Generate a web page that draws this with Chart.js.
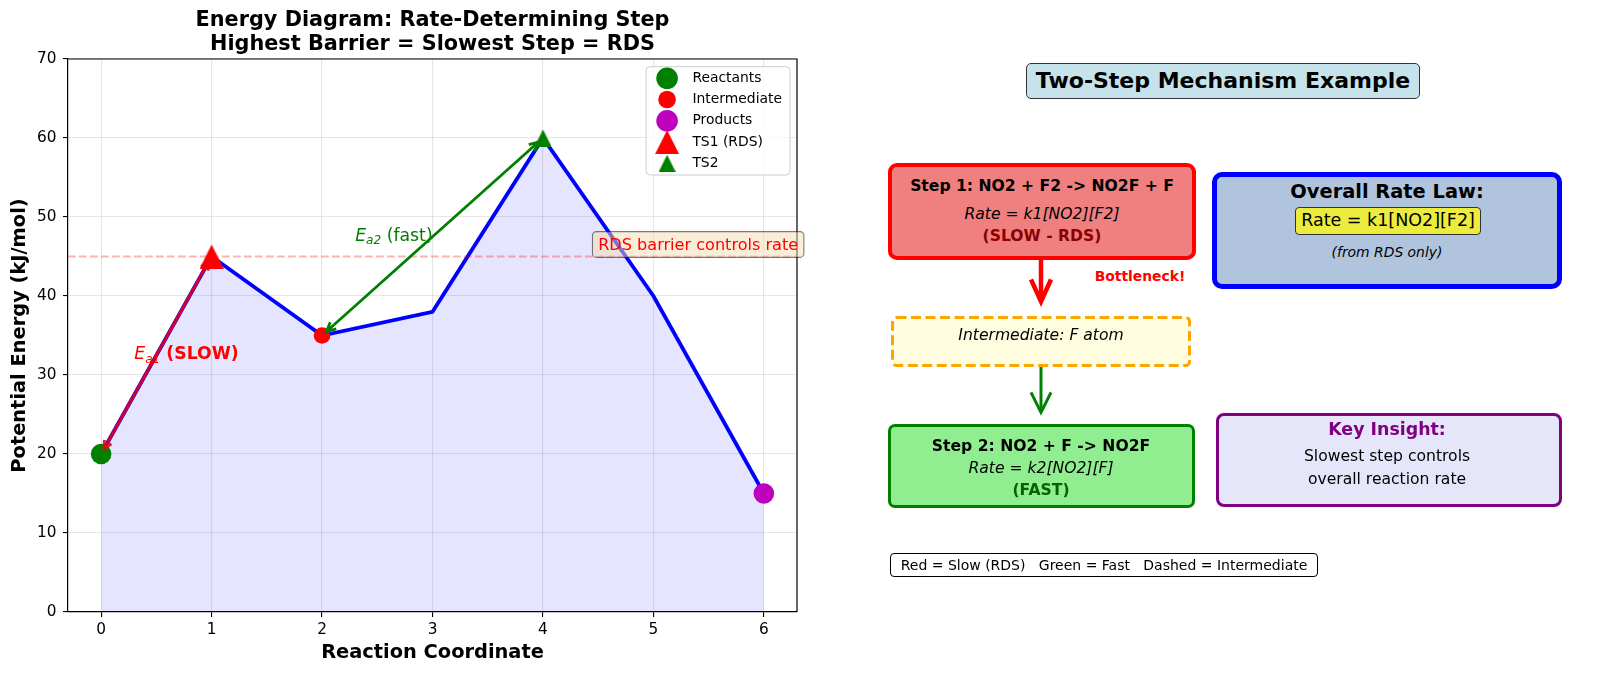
<!DOCTYPE html>
<html>
<head>
<meta charset="utf-8">
<script src="https://cdn.jsdelivr.net/npm/chart.js@4.4.1/dist/chart.umd.min.js"></script>
<style>
html,body{margin:0;padding:0;background:#fff;width:1600px;height:676px;overflow:hidden;font-family:"DejaVu Sans",sans-serif;}
#wrap{position:absolute;left:0;top:0;width:812px;height:676px;}
.box{position:absolute;box-sizing:border-box;}
.t{position:absolute;transform:translate(-50%,-50%);white-space:nowrap;line-height:1;color:#000;}
.b{font-weight:bold;}
.i{font-style:italic;}
svg{position:absolute;left:0;top:0;}
</style>
</head>
<body>
<div id="wrap"><canvas id="c" width="812" height="676"></canvas></div>

<!-- right panel -->
<div class="box" style="left:1026px;top:63px;width:394px;height:36px;background:#c6e3eb;border:1.3px solid #333;border-radius:5px;"></div>
<div class="t b" style="left:1223px;top:81px;font-size:22px;">Two-Step Mechanism Example</div>

<div class="box" style="left:888px;top:163px;width:308px;height:97px;background:#f08080;border:4px solid #ff0000;border-radius:9px;"></div>
<div class="t b" style="left:1042px;top:187px;font-size:15.6px;">Step 1: NO2 + F2 -&gt; NO2F + F</div>
<div class="t i" style="left:1042px;top:215px;font-size:15.6px;">Rate = k1[NO2][F2]</div>
<div class="t b" style="left:1042px;top:237px;font-size:15.6px;color:#8b0000;">(SLOW - RDS)</div>

<div class="box" style="left:1212px;top:172px;width:350px;height:117px;background:#b0c4de;border:5px solid #0000ff;border-radius:10px;"></div>
<div class="t b" style="left:1387px;top:192px;font-size:19.4px;">Overall Rate Law:</div>
<div class="box" style="left:1295px;top:207px;width:186px;height:28px;background:#ecec3e;border:1.2px solid #333;border-radius:4px;"></div>
<div class="t" style="left:1388px;top:221px;font-size:17.5px;">Rate = k1[NO2][F2]</div>
<div class="t i" style="left:1387px;top:253px;font-size:13.9px;">(from RDS only)</div>

<div class="t b" style="left:1140px;top:277px;font-size:13.9px;color:#ff0000;">Bottleneck!</div>

<svg width="1600" height="676">
  <rect x="892.5" y="317.5" width="297" height="48" rx="4" ry="4" fill="#fffde0" stroke="#ffa500" stroke-width="3" stroke-dasharray="10 4.5"/>
  <line x1="1041" y1="260" x2="1041" y2="300" stroke="#ff0000" stroke-width="4.5"/>
  <polyline points="1031,279.5 1041,301.5 1051,279.5" fill="none" stroke="#ff0000" stroke-width="4.5" stroke-linejoin="miter"/>
  <line x1="1041" y1="367" x2="1041" y2="411" stroke="#008000" stroke-width="3"/>
  <polyline points="1031,392.3 1041,412.3 1051,392.3" fill="none" stroke="#008000" stroke-width="3" stroke-linejoin="miter"/>
</svg>
<div class="t i" style="left:1041px;top:336px;font-size:15.6px;">Intermediate: F atom</div>

<div class="box" style="left:888px;top:424px;width:307px;height:84px;background:#90ee90;border:3px solid #008000;border-radius:7px;"></div>
<div class="t b" style="left:1041px;top:447px;font-size:15.6px;">Step 2: NO2 + F -&gt; NO2F</div>
<div class="t i" style="left:1041px;top:469px;font-size:15.6px;">Rate = k2[NO2][F]</div>
<div class="t b" style="left:1041px;top:491px;font-size:15.6px;color:#006400;">(FAST)</div>

<div class="box" style="left:1216px;top:413px;width:346px;height:94px;background:#e6e6fa;border:3.5px solid #800080;border-radius:8px;"></div>
<div class="t b" style="left:1387px;top:430px;font-size:17.4px;color:#800080;">Key Insight:</div>
<div class="t" style="left:1387px;top:457px;font-size:15.6px;">Slowest step controls</div>
<div class="t" style="left:1387px;top:480px;font-size:15.6px;">overall reaction rate</div>

<div class="box" style="left:890px;top:553px;width:428px;height:23.5px;background:#fff;border:1.2px solid #000;border-radius:4px;"></div>
<div class="t" style="left:1104px;top:565px;font-size:14px;">Red = Slow (RDS)&nbsp;&nbsp;&nbsp;Green = Fast&nbsp;&nbsp;&nbsp;Dashed = Intermediate</div>

<script>
// ---------------- data ----------------
const coords = [0, 1, 2, 3, 4, 5, 6];
const energy = [20, 45, 35, 38, 60, 40, 15];
const speciesLabels = ['Reactants', 'Intermediate', 'Products', 'TS1 (RDS)', 'TS2'];
const speciesX = [0, 2, 6, 1, 4];
const speciesY = [20, 35, 15, 45, 60];
const rdsLevel = 45;
const ea1From = [1, 45];
const ea1To = [0, 20];
const ea2From = [4, 60];
const ea2To = [2, 35];
const titleLines = ['Energy Diagram: Rate-Determining Step', 'Highest Barrier = Slowest Step = RDS'];
const xLimits = [-0.3, 6.3];
const yLimits = [0, 70];

// ---------------- styles ----------------
const FONT = '"DejaVu Sans", sans-serif';
Chart.defaults.font.family = FONT;
Chart.defaults.color = '#000';

function makeTriangle(size, color) {
  const c = document.createElement('canvas');
  c.width = size; c.height = size;
  const g = c.getContext('2d');
  g.fillStyle = color;
  g.beginPath();
  g.moveTo(size / 2, 0);
  g.lineTo(size, size);
  g.lineTo(0, size);
  g.closePath();
  g.fill();
  return c;
}
const speciesStyle = [
  { color: '#008000', pointStyle: 'circle', radius: 10.3 },
  { color: '#ff0000', pointStyle: 'circle', radius: 8.3 },
  { color: '#bf00bf', pointStyle: 'circle', radius: 10.3 },
  { color: '#ff0000', pointStyle: makeTriangle(24, '#ff0000'), radius: 12 },
  { color: '#008000', pointStyle: makeTriangle(17, '#008000'), radius: 8.5 }
];

const markerDatasets = speciesLabels.map((lab, i) => ({
  label: lab,
  data: [{ x: speciesX[i], y: speciesY[i] }],
  showLine: false,
  pointStyle: speciesStyle[i].pointStyle,
  pointRadius: speciesStyle[i].radius,
  pointHoverRadius: speciesStyle[i].radius,
  pointBackgroundColor: speciesStyle[i].color,
  pointBorderWidth: 0,
  borderColor: speciesStyle[i].color,
  backgroundColor: speciesStyle[i].color,
  order: 2
}));

function drawArrow(ctx, x0, y0, x1, y1, color, lw, headLen, headW, shrink) {
  const dx = x1 - x0, dy = y1 - y0, L = Math.hypot(dx, dy);
  const ux = dx / L, uy = dy / L;
  const sx = x0 + ux * shrink, sy = y0 + uy * shrink;
  const ex = x1 - ux * shrink, ey = y1 - uy * shrink;
  ctx.save();
  ctx.strokeStyle = color;
  ctx.lineWidth = lw;
  ctx.lineJoin = 'miter';
  ctx.lineCap = 'butt';
  ctx.beginPath();
  ctx.moveTo(sx, sy); ctx.lineTo(ex, ey);
  ctx.moveTo(ex - ux * headLen - uy * headW, ey - uy * headLen + ux * headW);
  ctx.lineTo(ex, ey);
  ctx.lineTo(ex - ux * headLen + uy * headW, ey - uy * headLen - ux * headW);
  ctx.moveTo(sx + ux * headLen - uy * headW, sy + uy * headLen + ux * headW);
  ctx.lineTo(sx, sy);
  ctx.lineTo(sx + ux * headLen + uy * headW, sy + uy * headLen - ux * headW);
  ctx.stroke();
  ctx.restore();
}

function drawEa(ctx, px, py, sub, rest, color, restBold) {
  ctx.save();
  ctx.fillStyle = color;
  ctx.textAlign = 'left';
  ctx.textBaseline = 'alphabetic';
  ctx.font = 'italic 17.3px ' + FONT;
  ctx.fillText('E', px, py);
  let w = ctx.measureText('E').width;
  ctx.font = 'italic 12.1px ' + FONT;
  ctx.fillText(sub, px + w, py + 3.6);
  w += ctx.measureText(sub).width;
  ctx.font = (restBold ? 'bold ' : '') + '17.3px ' + FONT;
  ctx.fillText(rest, px + w, py);
  ctx.restore();
}

function roundRect(ctx, x, y, w, h, r) {
  ctx.beginPath();
  ctx.moveTo(x + r, y);
  ctx.lineTo(x + w - r, y);
  ctx.arcTo(x + w, y, x + w, y + r, r);
  ctx.lineTo(x + w, y + h - r);
  ctx.arcTo(x + w, y + h, x + w - r, y + h, r);
  ctx.lineTo(x + r, y + h);
  ctx.arcTo(x, y + h, x, y + h - r, r);
  ctx.lineTo(x, y + r);
  ctx.arcTo(x, y, x + r, y, r);
  ctx.closePath();
}

const annotPlugin = {
  id: 'annot',
  afterDatasetsDraw(chart) {
    const { ctx, chartArea: ca, scales: { x, y } } = chart;
    ctx.save();
    ctx.strokeStyle = '#000';
    ctx.lineWidth = 1.2;
    ctx.beginPath();
    ctx.moveTo(ca.left, ca.top); ctx.lineTo(ca.right, ca.top); ctx.lineTo(ca.right, ca.bottom);
    ctx.stroke();
    ctx.restore();

    drawArrow(ctx, x.getPixelForValue(ea1From[0]), y.getPixelForValue(ea1From[1]),
      x.getPixelForValue(ea1To[0]), y.getPixelForValue(ea1To[1]), 'rgba(235,0,20,0.88)', 3, 8, 4, 6);
    drawArrow(ctx, x.getPixelForValue(ea2From[0]), y.getPixelForValue(ea2From[1]),
      x.getPixelForValue(ea2To[0]), y.getPixelForValue(ea2To[1]), '#008000', 2.8, 9, 4.5, 6);

    drawEa(ctx, x.getPixelForValue(0.3), y.getPixelForValue(32), 'a1', ' (SLOW)', '#ff0000', true);
    drawEa(ctx, x.getPixelForValue(2.3), y.getPixelForValue(47), 'a2', ' (fast)', '#008000', false);

    ctx.save();
    ctx.font = '16.1px ' + FONT;
    const txt = 'RDS barrier controls rate';
    const tw = ctx.measureText(txt).width;
    const tx = x.getPixelForValue(4.5), ty = y.getPixelForValue(45.8);
    roundRect(ctx, tx - 5.7, ty - 18.6, tw + 11.4, 25.8, 4);
    ctx.fillStyle = 'rgba(245,222,179,0.5)';
    ctx.fill();
    ctx.strokeStyle = 'rgba(0,0,0,0.5)';
    ctx.lineWidth = 1.1;
    ctx.stroke();
    ctx.fillStyle = '#ff0000';
    ctx.textAlign = 'left';
    ctx.textBaseline = 'alphabetic';
    ctx.fillText(txt, tx, ty);
    ctx.restore();
  },
  afterDraw(chart) {
    const { ctx, chartArea: ca } = chart;
    ctx.save();
    ctx.font = '13.9px ' + FONT;
    let maxW = 0;
    speciesLabels.forEach(l => { maxW = Math.max(maxW, ctx.measureText(l).width); });
    const right = ca.right - 7, top = ca.top + 7.7;
    const textX = right - 8 - maxW;
    const left = textX - 46.3;
    const rowH = 21.25, h = 108.3;
    roundRect(ctx, left, top, right - left, h, 4);
    ctx.fillStyle = 'rgba(255,255,255,0.8)';
    ctx.fill();
    ctx.strokeStyle = '#cccccc';
    ctx.lineWidth = 1;
    ctx.stroke();
    const mx = left + 21;
    speciesLabels.forEach((l, i) => {
      const cy = top + 11.6 + i * rowH;
      const st = speciesStyle[i];
      ctx.fillStyle = st.color;
      if (typeof st.pointStyle === 'string') {
        ctx.beginPath();
        ctx.arc(mx, cy, st.radius + 0.5, 0, Math.PI * 2);
        ctx.fill();
      } else {
        Chart.helpers.drawPoint(ctx, { pointStyle: st.pointStyle, radius: st.radius, rotation: 0, borderWidth: 0 }, mx, cy);
      }
      ctx.fillStyle = '#000';
      ctx.textAlign = 'left';
      ctx.textBaseline = 'middle';
      ctx.fillText(l, textX, cy);
    });
    ctx.restore();
  }
};

new Chart(document.getElementById('c'), {
  type: 'line',
  data: {
    datasets: [
      {
        label: 'Energy profile',
        data: coords.map((c, i) => ({ x: c, y: energy[i] })),
        borderColor: '#0000ff',
        borderWidth: 3.8,
        backgroundColor: 'rgba(0,0,255,0.1)',
        fill: 'origin',
        pointRadius: 0,
        tension: 0,
        order: 10
      },
      {
        label: 'RDS level',
        data: [{ x: xLimits[0], y: rdsLevel }, { x: xLimits[1], y: rdsLevel }],
        borderColor: 'rgba(255,0,0,0.3)',
        borderWidth: 2,
        borderDash: [7.7, 3.3],
        pointRadius: 0,
        fill: false,
        order: 9
      },
      ...markerDatasets
    ]
  },
  options: {
    responsive: false,
    animation: false,
    events: [],
    layout: { padding: { left: 0, right: 15, top: 0, bottom: 0 } },
    plugins: {
      legend: { display: false },
      tooltip: { enabled: false },
      title: {
        display: true,
        fullSize: false,
        text: titleLines,
        color: '#000',
        font: { family: FONT, size: 20.8, weight: 'bold', lineHeight: 1.15 },
        padding: { top: 8.4, bottom: 2.76 }
      }
    },
    scales: {
      x: {
        type: 'linear',
        min: xLimits[0],
        max: xLimits[1],
        afterFit(s) { s.height = 64; },
        ticks: { stepSize: 1, includeBounds: false, color: '#000', font: { family: FONT, size: 15.3 }, padding: 3.5,
          callback: v => String(v) },
        grid: { color: 'rgba(176,176,176,0.32)', lineWidth: 1.1, tickLength: 5, tickColor: '#000', tickWidth: 1.1 },
        border: { color: '#000', width: 1.2 },
        title: { display: true, text: 'Reaction Coordinate', color: '#000',
          font: { family: FONT, size: 19.4, weight: 'bold', lineHeight: 1.2 }, padding: { top: 0, bottom: 11.4 } }
      },
      y: {
        type: 'linear',
        min: yLimits[0],
        max: yLimits[1],
        afterFit(s) { s.width = 68; },
        ticks: { stepSize: 10, color: '#000', font: { family: FONT, size: 15.3 }, padding: 6.5 },
        grid: { color: 'rgba(176,176,176,0.32)', lineWidth: 1.1, tickLength: 5, tickColor: '#000', tickWidth: 1.1 },
        border: { color: '#000', width: 1.2 },
        title: { display: true, text: 'Potential Energy (kJ/mol)', color: '#000',
          font: { family: FONT, size: 19.4, weight: 'bold', lineHeight: 1.2 }, padding: { top: 7.9, bottom: 0 } }
      }
    }
  },
  plugins: [annotPlugin]
});
</script>
</body>
</html>
